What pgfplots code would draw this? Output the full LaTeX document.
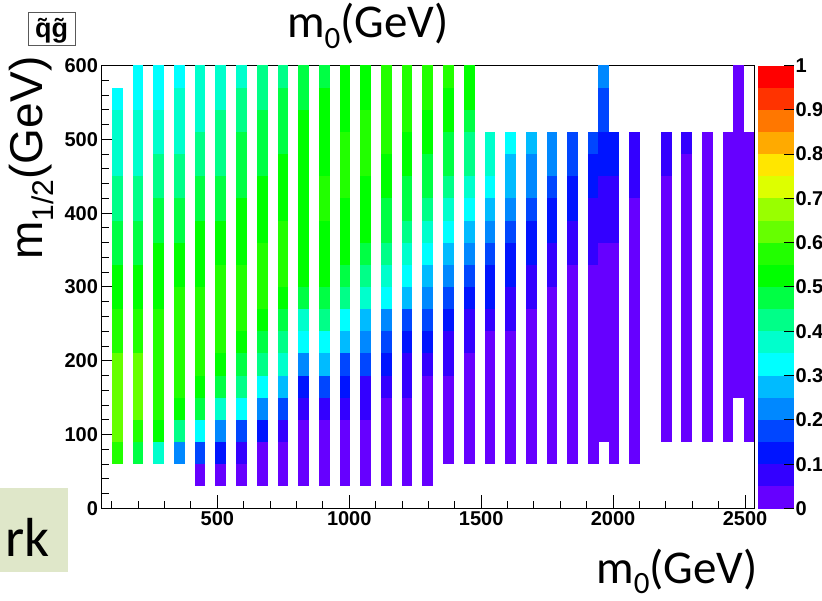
\documentclass[border=0pt]{standalone}
\usepackage{pgfplots}
\pgfplotsset{compat=1.18}
\usepackage{fontspec}
\setmainfont{Liberation Sans}
\newfontfamily\calfont{Carlito}
\definecolor{rkgreen}{RGB}{223,231,201}
\pgfdeclareplotmark{cell}{%
  \pgfpathrectangle{\pgfpoint{-5.35pt}{-11.12pt}}{\pgfpoint{10.7pt}{22.24pt}}%
  \pgfusepath{fill}}
\begin{document}
\begin{tikzpicture}
\useasboundingbox (0,0) rectangle (822pt,601pt);
\begin{axis}[
  at={(101.5pt,92.5pt)}, anchor=south west,
  scale only axis, width=653pt, height=443pt,
  xmin=61, xmax=2536, ymin=0, ymax=600,
  axis on top,
  xtick={500,1000,1500,2000,2500},
  minor xtick={100,200,...,2500},
  ytick={0,100,...,600},
  minor ytick={20,40,...,600},
  extra y ticks={0,100,...,600},
  extra y tick labels={},
  extra y tick style={major tick length=19.6pt},
  tickpos=left,
  tick align=inside,
  major tick length=13.3pt, minor tick length=7.5pt,
  tick style={black, line width=1pt},
  axis line style={line width=1.3pt},
  ticklabel style={font=\fontsize{20}{20}\selectfont\bfseries},
  /pgf/number format/assume math mode=true,
  /pgf/number format/set thousands separator={},
  colormap={rootpal}{
    rgb255=(102,0,255) rgb255=(51,0,255) rgb255=(0,20,255) rgb255=(0,70,255)
    rgb255=(0,136,255) rgb255=(0,187,255) rgb255=(0,255,255) rgb255=(0,255,204)
    rgb255=(0,255,136) rgb255=(0,255,68) rgb255=(0,255,0) rgb255=(34,255,0)
    rgb255=(102,255,0) rgb255=(153,255,0) rgb255=(221,255,0) rgb255=(255,230,0)
    rgb255=(255,170,0) rgb255=(255,119,0) rgb255=(255,51,0) rgb255=(255,0,0)},
  colormap access=piecewise constant,
  point meta min=-0.5, point meta max=19.5,
  colorbar right,
  colorbar shift/.style={xshift=3.2pt},
  colorbar style={
    at={(parent axis.north east)}, anchor=north west,
    scale only axis, width=36.3pt, height=443pt,
    ytick={-0.5,1.5,3.5,5.5,7.5,9.5,11.5,13.5,15.5,17.5,19.5},
    yticklabels={0,0.1,0.2,0.3,0.4,0.5,0.6,0.7,0.8,0.9,1},
    minor ytick={},
    ytick pos=right, yticklabel pos=right,
    tick align=inside, major tick length=10pt,
    tick style={black, line width=1pt},
    axis line style={draw=none},
    yticklabel style={font=\fontsize{20}{20}\selectfont\bfseries, xshift=-2pt},
  },
]
\addplot[scatter, only marks, mark=cell, point meta=explicit] coordinates {
(121,75)[11] (121,105)[12] (121,135)[12] (121,165)[12] (121,195)[12] (121,225)[11] (121,255)[11] (121,285)[10] (121,315)[10] (121,345)[9] (121,375)[9] (121,405)[8] (121,435)[8] (121,465)[7] (121,495)[7] (121,525)[7] (121,555)[6]
(199.5,75)[9] (199.5,105)[11] (199.5,135)[12] (199.5,165)[12] (199.5,195)[12] (199.5,225)[11] (199.5,255)[11] (199.5,285)[10] (199.5,315)[10] (199.5,345)[9] (199.5,375)[9] (199.5,405)[8] (199.5,435)[8] (199.5,465)[7] (199.5,495)[7] (199.5,525)[7] (199.5,555)[6] (199.5,585)[6]
(277.9,75)[7] (277.9,105)[10] (277.9,135)[11] (277.9,165)[11] (277.9,195)[11] (277.9,225)[11] (277.9,255)[11] (277.9,285)[10] (277.9,315)[10] (277.9,345)[10] (277.9,375)[9] (277.9,405)[9] (277.9,435)[8] (277.9,465)[8] (277.9,495)[7] (277.9,525)[7] (277.9,555)[6] (277.9,585)[6]
(356.4,75)[4] (356.4,105)[8] (356.4,135)[10] (356.4,165)[11] (356.4,195)[11] (356.4,225)[11] (356.4,255)[11] (356.4,285)[11] (356.4,315)[10] (356.4,345)[10] (356.4,375)[9] (356.4,405)[9] (356.4,435)[8] (356.4,465)[8] (356.4,495)[7] (356.4,525)[7] (356.4,555)[7] (356.4,585)[6]
(434.8,45)[0] (434.8,75)[3] (434.8,105)[6] (434.8,135)[9] (434.8,165)[10] (434.8,195)[11] (434.8,225)[11] (434.8,255)[11] (434.8,285)[11] (434.8,315)[10] (434.8,345)[10] (434.8,375)[10] (434.8,405)[9] (434.8,435)[9] (434.8,465)[8] (434.8,495)[8] (434.8,525)[7] (434.8,555)[7] (434.8,585)[7]
(513.3,45)[0] (513.3,75)[2] (513.3,105)[4] (513.3,135)[7] (513.3,165)[9] (513.3,195)[10] (513.3,225)[11] (513.3,255)[11] (513.3,285)[11] (513.3,315)[11] (513.3,345)[10] (513.3,375)[10] (513.3,405)[9] (513.3,435)[9] (513.3,465)[8] (513.3,495)[8] (513.3,525)[8] (513.3,555)[7] (513.3,585)[7]
(591.7,45)[0] (591.7,75)[1] (591.7,105)[3] (591.7,135)[6] (591.7,165)[8] (591.7,195)[9] (591.7,225)[10] (591.7,255)[11] (591.7,285)[11] (591.7,315)[11] (591.7,345)[10] (591.7,375)[10] (591.7,405)[10] (591.7,435)[9] (591.7,465)[9] (591.7,495)[9] (591.7,525)[8] (591.7,555)[8] (591.7,585)[7]
(670.2,45)[0] (670.2,75)[0] (670.2,105)[2] (670.2,135)[4] (670.2,165)[6] (670.2,195)[8] (670.2,225)[9] (670.2,255)[10] (670.2,285)[11] (670.2,315)[11] (670.2,345)[11] (670.2,375)[10] (670.2,405)[10] (670.2,435)[10] (670.2,465)[9] (670.2,495)[9] (670.2,525)[9] (670.2,555)[8] (670.2,585)[8]
(748.6,45)[0] (748.6,75)[0] (748.6,105)[1] (748.6,135)[3] (748.6,165)[5] (748.6,195)[7] (748.6,225)[8] (748.6,255)[9] (748.6,285)[10] (748.6,315)[11] (748.6,345)[11] (748.6,375)[11] (748.6,405)[10] (748.6,435)[10] (748.6,465)[10] (748.6,495)[9] (748.6,525)[9] (748.6,555)[9] (748.6,585)[8]
(827.1,45)[0] (827.1,75)[0] (827.1,105)[0] (827.1,135)[1] (827.1,165)[2] (827.1,195)[4] (827.1,225)[6] (827.1,255)[7] (827.1,285)[9] (827.1,315)[10] (827.1,345)[10] (827.1,375)[10] (827.1,405)[10] (827.1,435)[10] (827.1,465)[10] (827.1,495)[10] (827.1,525)[10] (827.1,555)[9] (827.1,585)[9]
(905.5,45)[0] (905.5,75)[0] (905.5,105)[0] (905.5,135)[1] (905.5,165)[3] (905.5,195)[5] (905.5,225)[6] (905.5,255)[8] (905.5,285)[9] (905.5,315)[10] (905.5,345)[10] (905.5,375)[10] (905.5,405)[11] (905.5,435)[11] (905.5,465)[10] (905.5,495)[10] (905.5,525)[10] (905.5,555)[10] (905.5,585)[9]
(984,45)[0] (984,75)[0] (984,105)[0] (984,135)[1] (984,165)[2] (984,195)[3] (984,225)[5] (984,255)[6] (984,285)[8] (984,315)[9] (984,345)[10] (984,375)[10] (984,405)[10] (984,435)[11] (984,465)[11] (984,495)[11] (984,525)[10] (984,555)[10] (984,585)[10]
(1062.4,45)[0] (1062.4,75)[0] (1062.4,105)[0] (1062.4,135)[1] (1062.4,165)[1] (1062.4,195)[3] (1062.4,225)[4] (1062.4,255)[5] (1062.4,285)[7] (1062.4,315)[8] (1062.4,345)[9] (1062.4,375)[10] (1062.4,405)[10] (1062.4,435)[10] (1062.4,465)[11] (1062.4,495)[11] (1062.4,525)[11] (1062.4,555)[10] (1062.4,585)[10]
(1140.9,45)[0] (1140.9,75)[0] (1140.9,105)[0] (1140.9,135)[0] (1140.9,165)[1] (1140.9,195)[2] (1140.9,225)[3] (1140.9,255)[4] (1140.9,285)[6] (1140.9,315)[7] (1140.9,345)[8] (1140.9,375)[9] (1140.9,405)[9] (1140.9,435)[10] (1140.9,465)[10] (1140.9,495)[11] (1140.9,525)[11] (1140.9,555)[11] (1140.9,585)[11]
(1219.3,45)[0] (1219.3,75)[0] (1219.3,105)[0] (1219.3,135)[0] (1219.3,165)[1] (1219.3,195)[1] (1219.3,225)[2] (1219.3,255)[3] (1219.3,285)[5] (1219.3,315)[6] (1219.3,345)[7] (1219.3,375)[8] (1219.3,405)[9] (1219.3,435)[9] (1219.3,465)[10] (1219.3,495)[10] (1219.3,525)[11] (1219.3,555)[11] (1219.3,585)[11]
(1297.8,45)[0] (1297.8,75)[0] (1297.8,105)[0] (1297.8,135)[0] (1297.8,165)[0] (1297.8,195)[1] (1297.8,225)[2] (1297.8,255)[3] (1297.8,285)[4] (1297.8,315)[5] (1297.8,345)[6] (1297.8,375)[7] (1297.8,405)[8] (1297.8,435)[9] (1297.8,465)[9] (1297.8,495)[10] (1297.8,525)[10] (1297.8,555)[11] (1297.8,585)[11]
(1376.2,75)[0] (1376.2,105)[0] (1376.2,135)[0] (1376.2,165)[0] (1376.2,195)[1] (1376.2,225)[1] (1376.2,255)[2] (1376.2,285)[3] (1376.2,315)[4] (1376.2,345)[5] (1376.2,375)[6] (1376.2,405)[7] (1376.2,435)[8] (1376.2,465)[9] (1376.2,495)[9] (1376.2,525)[10] (1376.2,555)[10] (1376.2,585)[11]
(1454.7,75)[0] (1454.7,105)[0] (1454.7,135)[0] (1454.7,165)[0] (1454.7,195)[0] (1454.7,225)[1] (1454.7,255)[1] (1454.7,285)[2] (1454.7,315)[3] (1454.7,345)[4] (1454.7,375)[5] (1454.7,405)[6] (1454.7,435)[7] (1454.7,465)[8] (1454.7,495)[8] (1454.7,525)[9] (1454.7,555)[10] (1454.7,585)[10]
(1533.1,75)[0] (1533.1,105)[0] (1533.1,135)[0] (1533.1,165)[0] (1533.1,195)[0] (1533.1,225)[0] (1533.1,255)[1] (1533.1,285)[2] (1533.1,315)[2] (1533.1,345)[3] (1533.1,375)[4] (1533.1,405)[5] (1533.1,435)[6] (1533.1,465)[7] (1533.1,495)[7]
(1611.6,75)[0] (1611.6,105)[0] (1611.6,135)[0] (1611.6,165)[0] (1611.6,195)[0] (1611.6,225)[0] (1611.6,255)[1] (1611.6,285)[1] (1611.6,315)[2] (1611.6,345)[2] (1611.6,375)[3] (1611.6,405)[4] (1611.6,435)[5] (1611.6,465)[5] (1611.6,495)[6]
(1690,75)[0] (1690,105)[0] (1690,135)[0] (1690,165)[0] (1690,195)[0] (1690,225)[0] (1690,255)[0] (1690,285)[1] (1690,315)[1] (1690,345)[2] (1690,375)[2] (1690,405)[3] (1690,435)[4] (1690,465)[4] (1690,495)[5]
(1768.5,75)[0] (1768.5,105)[0] (1768.5,135)[0] (1768.5,165)[0] (1768.5,195)[0] (1768.5,225)[0] (1768.5,255)[0] (1768.5,285)[0] (1768.5,315)[1] (1768.5,345)[1] (1768.5,375)[2] (1768.5,405)[2] (1768.5,435)[3] (1768.5,465)[4] (1768.5,495)[4]
(1846.9,75)[0] (1846.9,105)[0] (1846.9,135)[0] (1846.9,165)[0] (1846.9,195)[0] (1846.9,225)[0] (1846.9,255)[0] (1846.9,285)[0] (1846.9,315)[0] (1846.9,345)[1] (1846.9,375)[1] (1846.9,405)[2] (1846.9,435)[2] (1846.9,465)[3] (1846.9,495)[3]
(1925.4,75)[0] (1925.4,105)[0] (1925.4,135)[0] (1925.4,165)[0] (1925.4,195)[0] (1925.4,225)[0] (1925.4,255)[0] (1925.4,285)[0] (1925.4,315)[0] (1925.4,345)[1] (1925.4,375)[1] (1925.4,405)[1] (1925.4,435)[2] (1925.4,465)[2] (1925.4,495)[3]
(1964.6,105)[0] (1964.6,135)[0] (1964.6,165)[0] (1964.6,195)[0] (1964.6,225)[0] (1964.6,255)[0] (1964.6,285)[0] (1964.6,315)[0] (1964.6,345)[0] (1964.6,375)[1] (1964.6,405)[1] (1964.6,435)[1] (1964.6,465)[2] (1964.6,495)[2] (1964.6,525)[3] (1964.6,555)[3] (1964.6,585)[4]
(2003.8,75)[0] (2003.8,105)[0] (2003.8,135)[0] (2003.8,165)[0] (2003.8,195)[0] (2003.8,225)[0] (2003.8,255)[0] (2003.8,285)[0] (2003.8,315)[0] (2003.8,345)[0] (2003.8,375)[1] (2003.8,405)[1] (2003.8,435)[1] (2003.8,465)[2] (2003.8,495)[2]
(2082.3,75)[0] (2082.3,105)[0] (2082.3,135)[0] (2082.3,165)[0] (2082.3,195)[0] (2082.3,225)[0] (2082.3,255)[0] (2082.3,285)[0] (2082.3,315)[0] (2082.3,345)[0] (2082.3,375)[0] (2082.3,405)[0] (2082.3,435)[1] (2082.3,465)[1] (2082.3,495)[1]
(2202.5,105)[0] (2202.5,135)[0] (2202.5,165)[0] (2202.5,195)[0] (2202.5,225)[0] (2202.5,255)[0] (2202.5,285)[0] (2202.5,315)[0] (2202.5,345)[0] (2202.5,375)[0] (2202.5,405)[0] (2202.5,435)[0] (2202.5,465)[1] (2202.5,495)[1]
(2278.3,105)[0] (2278.3,135)[0] (2278.3,165)[0] (2278.3,195)[0] (2278.3,225)[0] (2278.3,255)[0] (2278.3,285)[0] (2278.3,315)[0] (2278.3,345)[0] (2278.3,375)[0] (2278.3,405)[0] (2278.3,435)[0] (2278.3,465)[0] (2278.3,495)[1]
(2357.9,105)[0] (2357.9,135)[0] (2357.9,165)[0] (2357.9,195)[0] (2357.9,225)[0] (2357.9,255)[0] (2357.9,285)[0] (2357.9,315)[0] (2357.9,345)[0] (2357.9,375)[0] (2357.9,405)[0] (2357.9,435)[0] (2357.9,465)[0] (2357.9,495)[0]
(2435.6,105)[0] (2435.6,135)[0] (2435.6,165)[0] (2435.6,195)[0] (2435.6,225)[0] (2435.6,255)[0] (2435.6,285)[0] (2435.6,315)[0] (2435.6,345)[0] (2435.6,375)[0] (2435.6,405)[0] (2435.6,435)[0] (2435.6,465)[0] (2435.6,495)[0]
(2475.4,165)[0] (2475.4,195)[0] (2475.4,225)[0] (2475.4,255)[0] (2475.4,285)[0] (2475.4,315)[0] (2475.4,345)[0] (2475.4,375)[0] (2475.4,405)[0] (2475.4,435)[0] (2475.4,465)[0] (2475.4,495)[0] (2475.4,525)[0] (2475.4,555)[0] (2475.4,585)[0]
(2515.2,105)[0] (2515.2,135)[0] (2515.2,165)[0] (2515.2,195)[0] (2515.2,225)[0] (2515.2,255)[0] (2515.2,285)[0] (2515.2,315)[0] (2515.2,345)[0] (2515.2,375)[0] (2515.2,405)[0] (2515.2,435)[0] (2515.2,465)[0] (2515.2,495)[0]
};
\end{axis}
\node[anchor=base, rotate=90, inner sep=0] at (42pt,443pt) {\fontsize{46}{46}\selectfont m\raisebox{-11pt}{\fontsize{30}{30}\selectfont 1/2}(GeV)};
\node[anchor=base west, inner sep=0] at (287pt,563pt) {\calfont\fontsize{47}{47}\selectfont m\raisebox{-11pt}{\fontsize{31}{31}\selectfont 0}(GeV)};
\node[anchor=base west, inner sep=0] at (596pt,17pt) {\calfont\fontsize{47}{47}\selectfont m\raisebox{-10pt}{\fontsize{31}{31}\selectfont 0}(GeV)};
\fill[rkgreen] (0,29pt) rectangle (68pt,113pt);
\node[anchor=base east, inner sep=0] at (50pt,44pt) {\calfont\fontsize{55}{55}\selectfont rk};
\draw[black!65, line width=1pt] (28pt,555pt) rectangle (75pt,588pt);
\node[inner sep=0] at (51.5pt,570pt) {\fontsize{27}{27}\selectfont\bfseries q̃g̃};
\end{tikzpicture}
\end{document}
